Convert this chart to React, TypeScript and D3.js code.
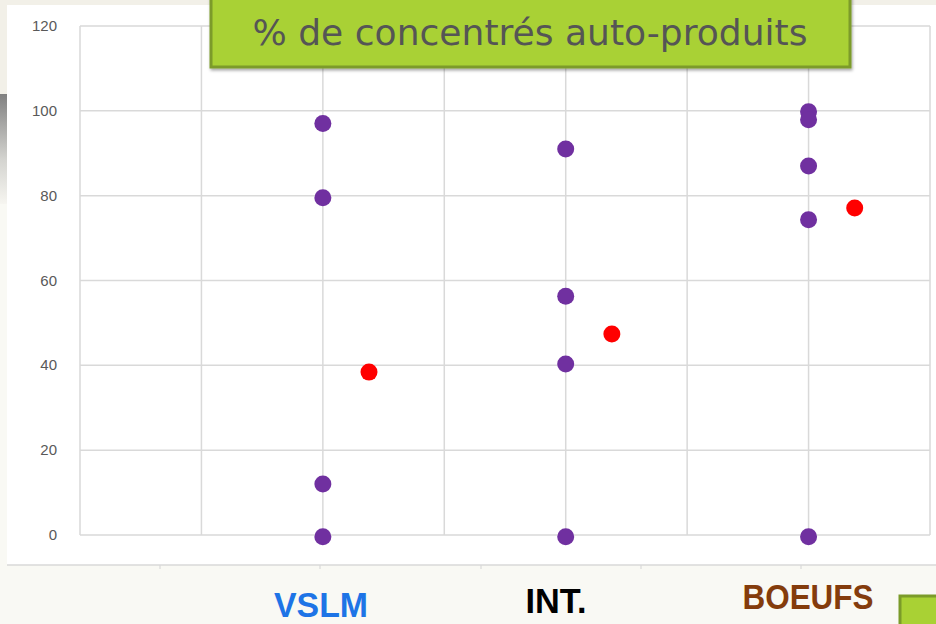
import React from 'react';
import * as d3 from 'd3';

// groups and their x positions on the scatter axis
const groups = ['VSLM', 'INT.', 'BOEUFS'];
const groupColors = ['#1e74e6', '#000000', '#843c0c'];
const groupX = [2, 4, 6];
// individual farms (% self-produced concentrate)
const farmValues = [
  [97, 79.5, 12, -0.4],
  [91, 56.3, 40.3, -0.4],
  [99.8, 97.9, 87, 74.3, -0.4],
];
// group means (red dots), slightly offset to the right
const meanX = [2.38, 4.38, 6.38];
const meanValues = [38.4, 47.4, 77.1];
const yTicks = [0, 20, 40, 60, 80, 100, 120];
const xGrid = [0, 1, 2, 3, 4, 5, 6, 7];
const outerTicks = [160, 320, 481, 641, 801];

export default function App() {
  const width = 936;
  const height = 624;
  const margin = { top: 26, right: 6, bottom: 89, left: 80 };

  const x = d3.scaleLinear().domain([0, 7]).range([margin.left, width - margin.right]);
  const y = d3.scaleLinear().domain([0, 120]).range([height - margin.bottom, margin.top]);

  return (
    <svg
      width={width}
      height={height}
      style={{ position: 'absolute', left: 0, top: 0 }}
      fontFamily="'Liberation Sans', Arial, sans-serif"
    >
      <defs>
        <linearGradient id="leftShade" x1="0" y1="0" x2="0" y2="1">
          <stop offset="0" stopColor="#808080" />
          <stop offset="0.6" stopColor="#d4d4d0" />
          <stop offset="1" stopColor="#f6f5f0" />
        </linearGradient>
        <filter id="shadow" x="-5%" y="-20%" width="110%" height="150%">
          <feDropShadow dx="1" dy="2" stdDeviation="1.5" floodColor="#000" floodOpacity="0.35" />
        </filter>
      </defs>

      {/* slide background */}
      <rect x={0} y={0} width={width} height={height} fill="#f9f9f4" />
      <rect x={0} y={0} width={width} height={94} fill="#f2f0e8" />
      <rect x={0} y={94} width={8} height={110} fill="url(#leftShade)" />

      {/* chart area */}
      <rect x={7} y={5} width={width - 7} height={560} fill="#ffffff" />
      <line x1={7} x2={width} y1={565} y2={565} stroke="#d9d9d9" strokeWidth={1.5} />
      {outerTicks.map((t) => (
        <line key={t} x1={t} x2={t} y1={565} y2={569} stroke="#d9d9d9" strokeWidth={1.2} />
      ))}

      {/* grid */}
      {yTicks.map((t) => (
        <line
          key={'h' + t}
          x1={x(0)}
          x2={x(7)}
          y1={y(t)}
          y2={y(t)}
          stroke="#d9d9d9"
          strokeWidth={1.5}
        />
      ))}
      {xGrid.map((t) => (
        <line
          key={'v' + t}
          x1={x(t)}
          x2={x(t)}
          y1={y(0)}
          y2={y(120)}
          stroke="#d9d9d9"
          strokeWidth={1.5}
        />
      ))}

      {/* y labels */}
      {yTicks.map((t) => (
        <text
          key={'l' + t}
          x={57}
          y={y(t) + 5}
          textAnchor="end"
          fontSize={15}
          fill="#595959"
        >
          {t}
        </text>
      ))}

      {/* farm points */}
      {farmValues.map((vals, i) =>
        vals.map((v, j) => (
          <circle key={`f${i}-${j}`} cx={x(groupX[i])} cy={y(v)} r={8.5} fill="#7030a0" />
        )),
      )}
      {meanValues.map((v, i) => (
        <circle key={'m' + i} cx={x(meanX[i])} cy={y(v)} r={8.5} fill="#ff0000" />
      ))}

      {/* title box */}
      <rect
        x={211}
        y={-4}
        width={639}
        height={71}
        fill="#a9d134"
        stroke="#7b9b29"
        strokeWidth={3}
        filter="url(#shadow)"
      />
      <text
        x={530}
        y={45}
        textAnchor="middle"
        fontSize={35}
        fill="#555555"
        fontFamily="'DejaVu Sans', sans-serif"
        textLength={555}
        lengthAdjust="spacingAndGlyphs"
      >
        % de concentrés auto-produits
      </text>

      {/* group labels */}
      {groups.map((g, i) => {
        const widths = [94, 61, 131];
        const baselines = [617, 613, 609];
        const centers = [321, 556, 808];
        return (
          <text
            key={g}
            x={centers[i]}
            y={baselines[i]}
            textAnchor="middle"
            fontSize={35}
            fontWeight="bold"
            fill={groupColors[i]}
            textLength={widths[i]}
            lengthAdjust="spacingAndGlyphs"
          >
            {g}
          </text>
        );
      })}

      {/* decorative box bottom right */}
      <rect x={900} y={596} width={40} height={40} fill="#a9d134" stroke="#7b9b29" strokeWidth={3} />
    </svg>
  );
}
